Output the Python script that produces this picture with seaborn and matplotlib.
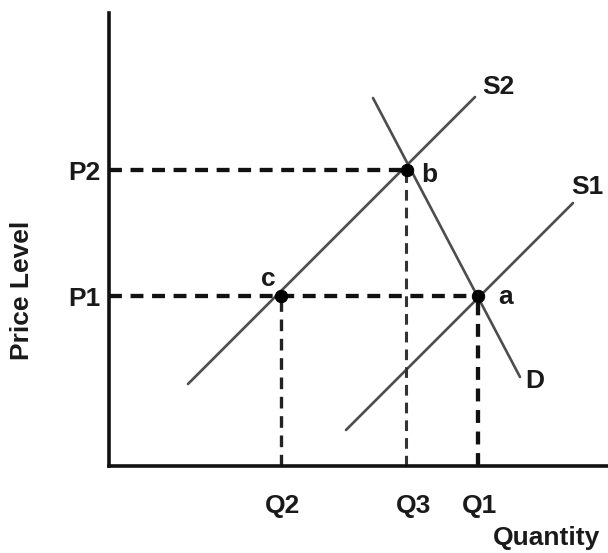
import matplotlib
matplotlib.use("Agg")
import matplotlib.pyplot as plt
import seaborn as sns
import pandas as pd

# ---- data (quantity / price units) ----
q_labels = ["Q2", "Q3", "Q1"]
q_values = [172, 297, 369]
p_labels = ["P1", "P2"]
p_values = [170, 296]

s2_q = [79, 366]
s2_p = [82, 369]
s1_q = [237, 464]
s1_p = [36, 263]
d_q = [264, 411]
d_p = [368, 89]

point_names = ["c", "b", "a"]
point_q = [172, 298, 369]
point_p = [170, 296, 170]

sns.set_style("white")
plt.rcParams["font.family"] = ["Liberation Sans", "DejaVu Sans"]

W, H = 608, 553
fig = plt.figure(figsize=(W / 100, H / 100), dpi=100)
ox, oy, top = 109, 466, 13
ax = fig.add_axes([ox / W, (H - oy) / H, (W - ox) / W, (oy - top) / H])
ax.set_xlim(0, W - ox)
ax.set_ylim(0, oy - top)

line_col = "#4d4d4d"
curves = pd.DataFrame({
    "quantity": s2_q + s1_q + d_q,
    "price": s2_p + s1_p + d_p,
    "curve": ["S2"] * 2 + ["S1"] * 2 + ["D"] * 2,
})
for name, grp in curves.groupby("curve"):
    sns.lineplot(data=grp, x="quantity", y="price", color=line_col, lw=1.9,
                 ax=ax, sort=False, estimator=None)

# dashed guides
guide_col = "#111111"
ax.plot([0, point_q[1]], [p_values[1], p_values[1]], color=guide_col, lw=3.1, dashes=(3, 2),
        dash_capstyle="butt")
ax.plot([0, point_q[2]], [p_values[0], p_values[0]], color=guide_col, lw=3.1, dashes=(3, 2),
        dash_capstyle="butt")
ax.plot([q_values[0], q_values[0]], [0, p_values[0]], color="#222222", lw=2.4, dashes=(3.5, 2.3),
        dash_capstyle="butt")
ax.plot([q_values[1], q_values[1]], [0, p_values[1]], color="#333333", lw=2.2, dashes=(3.5, 2.3),
        dash_capstyle="butt")
ax.plot([q_values[2], q_values[2]], [0, p_values[0]], color=guide_col, lw=3.1, dashes=(3, 2),
        dash_capstyle="butt")

sns.scatterplot(x=point_q, y=point_p, color="black", s=80, edgecolor="black", ax=ax, zorder=5)

for s in ["top", "right"]:
    ax.spines[s].set_visible(False)
for s in ["left", "bottom"]:
    ax.spines[s].set_linewidth(2.6)
    ax.spines[s].set_color("#111111")
ax.set_xlabel("")
ax.set_ylabel("")
ax.set_xticks([])
ax.set_yticks([])

fs = 19
tc = "#1a1a1a"
txt = dict(fontsize=fs, fontweight="bold", color=tc, va="center_baseline", ha="center", clip_on=False)

def px(x, y):
    return x - ox, oy - y

for lab, pv in zip(p_labels, p_values):
    ax.text(-9, pv, lab, **{**txt, "ha": "right"})
q_centers = [283, 414, 480]
for lab, xc in zip(q_labels, q_centers):
    ax.text(*px(xc, 503), lab, **txt)

ax.text(*px(547, 535), "Quantity", **txt)
ax.text(*px(22, 230), "Price Level", rotation=90, **txt)

ax.text(*px(498, 85), "S2", **txt)
ax.text(*px(587, 185), "S1", **txt)
ax.text(*px(535, 378), "D", **txt)
ax.text(*px(429, 172), "b", **txt)
ax.text(*px(506, 295), "a", **txt)
ax.text(*px(268, 276), "c", **txt)

fig.savefig("out.png", dpi=100)
